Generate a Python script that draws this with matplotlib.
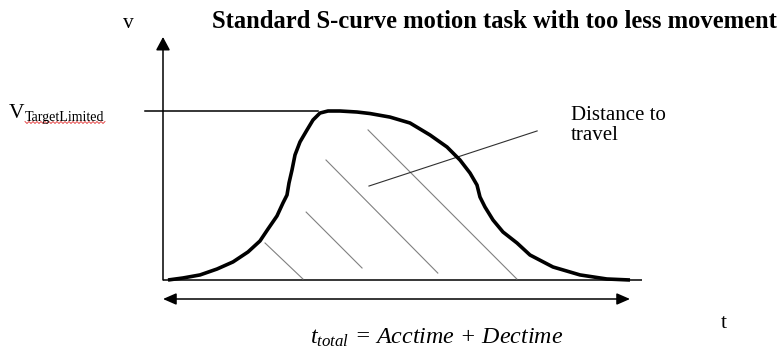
import numpy as np
import matplotlib
matplotlib.use("Agg")
from matplotlib import pyplot as plt

# S-curve velocity profile (t in % of total move time, v relative to VTargetLimited)
t_curve = [0, 3.25, 6.93, 10.61, 14.07, 17.32, 19.91, 21.65, 23.59, 24.89, 25.76,
           26.19, 26.84, 27.49, 28.57, 30.09, 31.39, 32.90, 34.63, 37.23, 40.91,
           43.72, 48.05, 52.38, 56.71, 60.39, 63.20, 65.37, 66.88, 67.53, 68.61,
           70.35, 72.51, 75.54, 78.35, 83.33, 89.18, 94.98, 100]
v_curve = [0, 0.012, 0.030, 0.065, 0.107, 0.166, 0.231, 0.302, 0.379, 0.456, 0.503,
           0.574, 0.651, 0.740, 0.817, 0.888, 0.947, 0.988, 1.0, 1.0, 0.994,
           0.985, 0.964, 0.929, 0.858, 0.787, 0.710, 0.633, 0.562, 0.491, 0.432,
           0.355, 0.284, 0.219, 0.148, 0.077, 0.030, 0.006, 0]

v_target = 1.0
t_total = 100

# hatching inside the travelled area: (t0, v0, t1, v1)
hatch = [(21.0, 0.219, 29.2, 0.006),
         (29.9, 0.402, 42.0, 0.071),
         (34.2, 0.710, 58.4, 0.041),
         (43.3, 0.888, 75.5, 0.006)]

# leader line for the "Distance to travel" note
leader_t = [43.5, 79.9]
leader_v = [0.556, 0.882]

W, H = 782, 348
plt.rcParams['font.family'] = ['Liberation Serif', 'DejaVu Serif']
plt.rcParams['mathtext.fontset'] = 'custom'
plt.rcParams['mathtext.it'] = 'Liberation Serif:italic'
plt.rcParams['mathtext.rm'] = 'Liberation Serif'

fig = plt.figure(figsize=(W / 100, H / 100), dpi=100)
ax = fig.add_axes([0, 0, 1, 1])
ax.set_axis_off()

# 168 px = t 0, 4.62 px per t unit; 280 px = v 0, 169 px per v unit
sx, sy = 4.62, 169.0
ax.set_xlim(-168 / sx, (W - 168) / sx)
ax.set_ylim((280 - H) / sy, 280 / sy)

def at(x, y):
    return x / W, 1 - y / H

t_axis = -5 / sx

# axes: v with arrow, t baseline
ax.annotate('', xy=(t_axis, 243 / sy), xytext=(t_axis, 0),
            arrowprops=dict(arrowstyle='-|>,head_length=0.8,head_width=0.43',
                            mutation_scale=10, lw=1.1, color='black',
                            shrinkA=0, shrinkB=0))
ax.plot([t_axis, 102.6], [0, 0], color='black', lw=1.1, solid_capstyle='butt')

# VTargetLimited level
ax.plot([-23 / sx, 32.5], [v_target, v_target], color='black', lw=1.1)

# hatching and leader
for t0, v0, t1, v1 in hatch:
    ax.plot([t0, t1], [v0, v1], color='#808080', lw=0.8)
ax.plot(leader_t, leader_v, color='#303030', lw=0.8)

# the profile
ax.plot(t_curve, v_curve, color='black', lw=2.6, solid_capstyle='butt',
        solid_joinstyle='round')

# total time double arrow
ax.annotate('', xy=(t_total, -19 / sy), xytext=(t_axis, -19 / sy),
            arrowprops=dict(arrowstyle='<|-|>,head_length=0.8,head_width=0.35',
                            mutation_scale=10, lw=1.1, color='black',
                            shrinkA=0, shrinkB=0))

# texts
fig.text(*at(212, 28), 'Standard S-curve motion task with too less movement',
         fontsize=17.7, fontweight='bold', va='baseline', ha='left')
fig.text(*at(123, 28), 'v', fontsize=15.5, va='baseline')
fig.text(*at(721, 328), 't', fontsize=15.5, va='baseline')
fig.text(*at(9, 118), 'V', fontsize=15.5, va='baseline')
fig.text(*at(25, 121), 'TargetLimited', fontsize=10.1, va='baseline')
fig.text(*at(571, 140), 'Distance to\ntravel', fontsize=15, va='baseline',
         linespacing=1.05)
fig.text(*at(310, 344), r'$t_{total}$ = Acctime + Dectime', fontsize=17.3,
         style='italic', va='baseline')

# spell-check squiggle under the subscript
zx = np.arange(25, 106, 2.0)
zy = 122.5 + np.where(np.arange(len(zx)) % 2 == 0, -1.0, 1.0)
ax.plot((zx - 168) / sx, (280 - zy) / sy, color='#e03030', lw=0.6)

fig.savefig('out.png', dpi=100)
